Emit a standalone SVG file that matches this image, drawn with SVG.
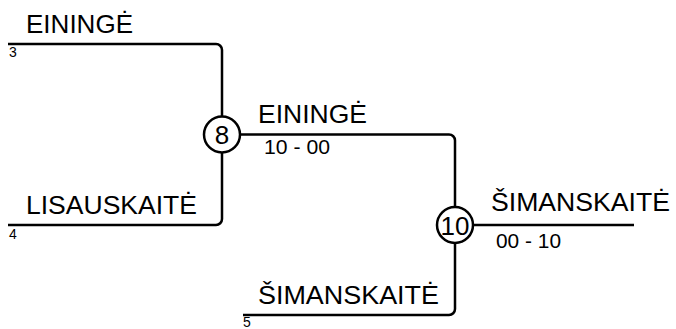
<svg xmlns="http://www.w3.org/2000/svg" width="676" height="329" viewBox="0 0 676 329">
<style>
.bg{fill:#fff}
.ln{fill:none;stroke:#000;stroke-width:2.5}
.nm{font-family:"Liberation Sans",Arial,sans-serif;font-size:25px;fill:#000}
.sc{font-family:"Liberation Sans",Arial,sans-serif;font-size:19.5px;fill:#000}
.sd{font-family:"Liberation Sans",Arial,sans-serif;font-size:14px;fill:#000}
.rc{fill:#fff;stroke:#000;stroke-width:2.5}
.rn{font-family:"Liberation Sans",Arial,sans-serif;font-size:26px;fill:#000;text-anchor:middle}
</style>
<rect class="bg" x="0" y="0" width="676" height="329"/>
<g id="connectors">
<path class="ln" d="M8,44 H216 A6,6 0 0 1 222,50 V116.5"/>
<path class="ln" d="M8,225 H216 A6,6 0 0 0 222,219 V152.5"/>
<path class="ln" d="M240,134.5 H449 A6,6 0 0 1 455,140.5 V207"/>
<path class="ln" d="M243,315 H449 A6,6 0 0 0 455,309 V243"/>
<path class="ln" d="M473,225 H634"/>
</g>
<g id="entry-eininge-3">
<text class="nm" x="26" y="33" textLength="107" lengthAdjust="spacingAndGlyphs">EININGĖ</text>
<text class="sd" x="9" y="57">3</text>
</g>
<g id="entry-lisauskaite-4">
<text class="nm" x="26" y="214" textLength="171" lengthAdjust="spacingAndGlyphs">LISAUSKAITĖ</text>
<text class="sd" x="9" y="239">4</text>
</g>
<g id="entry-simanskaite-5">
<text class="nm" x="258" y="304" textLength="181" lengthAdjust="spacingAndGlyphs">ŠIMANSKAITĖ</text>
<text class="sd" x="243" y="327">5</text>
</g>
<g id="match-8">
<circle class="rc" cx="222" cy="134.5" r="18"/>
<text class="rn" x="222" y="144">8</text>
<text class="nm" x="258" y="123" textLength="109" lengthAdjust="spacingAndGlyphs">EININGĖ</text>
<text class="sc" x="264" y="154" textLength="66" lengthAdjust="spacingAndGlyphs">10 - 00</text>
</g>
<g id="match-10">
<circle class="rc" cx="455" cy="225" r="18"/>
<text class="rn" x="455" y="234.5">10</text>
<text class="nm" x="491" y="211" textLength="179" lengthAdjust="spacingAndGlyphs">ŠIMANSKAITĖ</text>
<text class="sc" x="496" y="248" textLength="65" lengthAdjust="spacingAndGlyphs">00 - 10</text>
</g>
</svg>
